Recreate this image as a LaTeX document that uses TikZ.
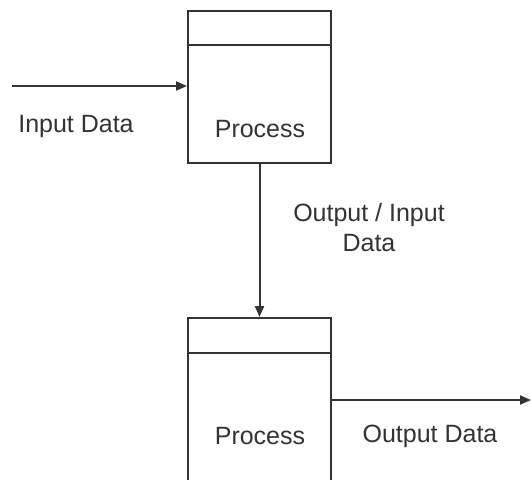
\documentclass[tikz,border=0pt]{standalone}
\usepackage{fontspec}
\setmainfont{Liberation Sans}
\usetikzlibrary{arrows.meta,calc}
\begin{document}
\begin{tikzpicture}[x=1pt,y=1pt,
  line width=2pt,
  color=black!80,
  proc/.style={draw, line width=2pt, rectangle, minimum width=143pt, inner sep=0pt},
  lbl/.style={font=\fontsize{25}{30}\selectfont, inner sep=0pt, align=center},
  arr/.style={-{Triangle[length=11pt,width=9pt]}}
]
\clip (0,0) rectangle (531,-480);
\fill[white] (0,0) rectangle (531,-480);
\node[proc, minimum height=152pt] (b1) at (259.5,-87) {};
\node[proc, minimum height=182pt] (b2) at (259.5,-409) {};
\draw ($(b1.north west)+(0,-35)$) -- ($(b1.north east)+(0,-35)$);
\draw ($(b2.north west)+(0,-36)$) -- ($(b2.north east)+(0,-36)$);
\node[lbl] (t1) at (260,-129) {Process};
\node[lbl] (t2) at (260,-436) {Process};
\coordinate (inp) at (12,-86);
\coordinate (outp) at (531,-400);
\draw[arr] (inp) -- (inp -| b1.west);
\draw[arr] (b1.south) -- (b2.north);
\draw[arr] (b2.east |- outp) -- (outp);
\node[lbl] (l1) at (76,-126) {Input Data};
\node[lbl] (l2) at (369,-228) {Output / Input\\Data};
\node[lbl] (l3) at (430,-436) {Output Data};
\end{tikzpicture}
\end{document}
